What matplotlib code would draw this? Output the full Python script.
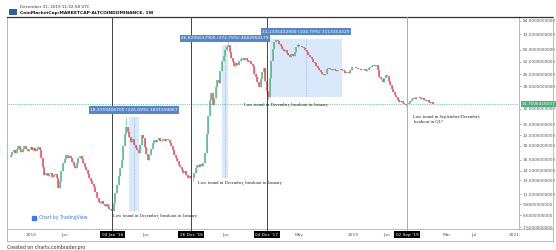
import numpy as np
import pandas as pd
import matplotlib
matplotlib.use("Agg")
import matplotlib.pyplot as plt
import matplotlib.dates as mdates
import matplotlib.transforms as mtransforms
from matplotlib.patches import Rectangle
from matplotlib.lines import Line2D
from matplotlib.ticker import FixedLocator, FixedFormatter, NullLocator

# weekly closes (altcoin dominance), weeks start 2014-09-29
close_2014 = [17.4, 18.1, 18.6, 17.9, 18.8, 19.3, 18.6, 18.0, 18.7, 19.5, 18.8, 18.3, 18.7, 19.2]
close_2015 = [18.6, 18.9, 18.3, 18.7, 19.2, 18.5, 16.9, 15.2, 13.8, 14.1, 13.6, 13.9, 14.2,
              13.5, 13.8, 14.0, 13.4, 11.9, 12.9, 14.4, 15.8, 16.6, 17.5, 16.9, 17.3, 16.8,
              16.0, 15.4, 15.0, 15.9, 16.8, 17.3, 16.7, 15.9, 15.1, 14.6, 13.9, 13.3, 12.8,
              12.4, 12.0, 11.3, 10.6, 10.1, 9.9, 10.2, 9.8, 9.6, 9.8, 9.5, 9.3, 9.2]
close_2016 = [9.1, 9.9, 11.2, 12.3, 13.6, 15.0, 16.5, 19.3, 22.4, 24.2, 22.8, 21.6, 20.3,
              21.1, 19.6, 18.9, 18.5, 17.9, 19.6, 22.1, 21.3, 19.2, 17.6, 16.5, 17.4, 18.8,
              20.1, 20.8, 20.4, 20.9, 21.2, 20.6, 20.8, 21.0, 20.5, 21.1, 20.7, 20.2, 19.3,
              18.4, 17.5, 16.8, 16.2, 15.6, 15.1, 14.6, 14.2, 14.4, 13.8, 13.3, 13.6, 13.4]
close_2017 = [13.3, 14.1, 14.9, 15.5, 15.2, 15.7, 15.3, 15.9, 17.8, 22.4, 27.6, 33.3, 36.1,
              31.4, 34.2, 38.9, 42.1, 40.6, 46.8, 52.4, 55.9, 59.7, 62.1, 63.4, 58.6, 54.2,
              52.0, 49.8, 51.6, 50.1, 52.7, 53.5, 54.3, 53.2, 54.6, 52.9, 51.8, 52.4, 50.9,
              49.8, 45.2, 43.6, 41.3, 38.7, 42.4, 46.1, 48.4, 41.6, 36.8, 34.5, 43.2, 52.6]
close_2018 = [60.3, 65.8, 67.2, 66.1, 64.0, 62.8, 60.4, 58.9, 59.6, 57.8, 56.2, 55.1, 56.8,
              55.4, 58.7, 61.6, 63.4, 62.5, 63.0, 62.1, 61.3, 59.6, 58.1, 56.4, 55.3, 53.6,
              52.2, 51.4, 49.8, 48.6, 47.3, 46.2, 45.1, 44.6, 45.3, 47.9, 48.4, 47.6, 47.1,
              47.8, 47.3, 46.9, 47.5, 47.0, 47.6, 47.2, 46.5, 45.6, 46.3, 45.8, 47.4, 48.9]
close_2019 = [49.2, 49.0, 48.3, 47.6, 48.1, 47.4, 47.0, 47.6, 46.8, 47.5, 48.3, 48.9, 49.6,
              50.1, 49.7, 50.4, 47.2, 43.6, 42.3, 41.1, 43.2, 44.6, 44.0, 41.8, 39.6, 37.9,
              36.6, 35.1, 34.4, 33.3, 32.6, 32.9, 32.0, 31.6, 31.4, 31.9, 32.1, 33.0, 33.6,
              34.1, 33.8, 34.3, 34.5, 34.2, 33.6, 33.9, 33.3, 32.8, 33.1, 32.6, 32.1, 32.4, 31.75]
first_open = 17.0
start_week = "2014-09-29"

# wicks that stick out past the bodies (week index -> value)
wick_high = {75: 27.3, 141: 66.0, 172: 68.3, 186: 64.6}
wick_low = {66: 8.6, 118: 12.9, 167: 33.6, 256: 30.9}

last_price = 31.7506416037
price_ticks = [84, 72, 60, 52, 45, 39, 30, 25, 22, 19.5, 16.5, 14.5, 13, 11, 9.8, 8.6, 7.5]

date_ticks = ["2015-01-01", "2015-06-01", "2016-06-01", "2017-06-01", "2018-05-01",
              "2019-01-01", "2019-06-01", "2020-03-01", "2020-07-01", "2021-01-01"]
date_tick_labels = ["2015", "Jun", "Jun", "Jun", "May", "2019", "Jun", "Mar", "Jul", "2021"]

marker_dates = ["2016-01-04", "2016-12-26", "2017-12-04", "2019-09-02"]
marker_labels = ["04 Jan '16", "26 Dec '16", "04 Dec '17", "02 Sep '19"]
marker_colors = ["#444444", "#444444", "#444444", "#aaaaaa"]

range_start = ["2016-03-21", "2017-05-15", "2017-12-18"]
range_end = ["2016-05-02", "2017-06-12", "2018-11-12"]
range_low = [9.0, 13.3, 34.5]
range_high = [27.3, 63.4, 68.3]
range_labels = ["18.3159406700 (225.09%) 1831594067",
                "46.8295017900 (372.79%) 4682950179",
                "31.1335432900 (104.79%) 3113354329"]

note_dates = ["2016-01-06", "2017-01-28", "2017-08-23", "2019-09-30"]
note_values = [8.55, 12.6, 31.5, 28.0]
note_texts = ["Low found in December, breakout in January",
              "Low found in December, breakout in January",
              "Low found in December, breakout in January",
              "Low found in September/December,\nbreakout in Q1?"]

W, H = 556, 250
UP, DOWN = "#53b987", "#eb4d5c"

fig = plt.figure(figsize=(W / 100, H / 100), dpi=100)
ax = fig.add_axes([7 / W, 1 - 229 / H, 512 / W, 212 / H])
ax.set_yscale("log")

closes = np.array(close_2014 + close_2015 + close_2016 + close_2017 + close_2018 + close_2019)
opens = np.concatenate([[first_open], closes[:-1]])
dates = pd.date_range(start_week, periods=len(closes), freq="7D")
x = mdates.date2num(dates)
highs = np.maximum(opens, closes)
lows = np.minimum(opens, closes)
for k, v in wick_high.items():
    highs[k] = v
for k, v in wick_low.items():
    lows[k] = v
cols = [UP if c >= o else DOWN for o, c in zip(opens, closes)]

# range boxes behind the candles
for s, e, lo, hi, lab in zip(range_start, range_end, range_low, range_high, range_labels):
    s, e = mdates.datestr2num(s), mdates.datestr2num(e)
    ax.add_patch(Rectangle((s, lo), e - s, hi - lo, facecolor="#dae8fb", edgecolor="none", zorder=1))
    mid = (s + e) / 2
    ax.plot([mid, mid], [lo, hi], color="#6f9bd8", lw=0.5, ls=(0, (1, 1.5)), zorder=1.5)
    ax.annotate(lab, (mid, hi), xytext=(0, 3.5), textcoords="offset points",
                ha="center", va="bottom", fontsize=3.2, color="white", zorder=6,
                bbox=dict(boxstyle="square,pad=0.35", fc="#5787c9", ec="none"))

ax.vlines(x, lows, highs, colors=cols, lw=0.4, zorder=3)
ax.vlines(x, np.minimum(opens, closes), np.maximum(opens, closes), colors=cols, lw=1.1, zorder=3)

# current price line
ax.axhline(last_price, color=UP, lw=0.6, ls=(0, (1, 1.2)), zorder=2)
ytr = mtransforms.blended_transform_factory(ax.transAxes, ax.transData)
ax.text(1.006, last_price, f"{last_price:.10f}", transform=ytr, ha="left", va="center",
        fontsize=3.1, color="white", zorder=7, clip_on=False,
        bbox=dict(boxstyle="square,pad=0.3", fc="#4caf7d", ec="none"))

# vertical marker lines and their date boxes
xtr = mtransforms.blended_transform_factory(ax.transData, ax.transAxes)
for d, lab, c in zip(marker_dates, marker_labels, marker_colors):
    dn = mdates.datestr2num(d)
    ax.axvline(dn, ymin=-0.02, ymax=1, color=c, lw=0.7, zorder=4, clip_on=False)
    ax.text(dn, -0.028, lab, transform=xtr, ha="center", va="center", fontsize=3.1,
            color="white", zorder=8, clip_on=False,
            bbox=dict(boxstyle="square,pad=0.35", fc="black", ec="none"))

for d, v, t in zip(note_dates, note_values, note_texts):
    ax.text(mdates.datestr2num(d), v, t, ha="left", va="top" if "\n" in t else "center",
            fontsize=3.3, family="Liberation Serif", color="#222222", zorder=6,
            linespacing=1.3)

ax.set_xlim(mdates.datestr2num("2014-09-13"), mdates.datestr2num("2021-01-21"))
ax.set_ylim(7.33, 88.0)

ax.set_xticks([mdates.datestr2num(d) for d in date_ticks])
ax.set_xticklabels(date_tick_labels)
ax.tick_params(axis="x", length=0, pad=3.2, labelsize=3.2, colors="#555555")

ax.yaxis.tick_right()
ax.yaxis.set_major_locator(FixedLocator(price_ticks))
ax.yaxis.set_major_formatter(FixedFormatter([f"{v:.10f}" for v in price_ticks]))
ax.yaxis.set_minor_locator(NullLocator())
ax.tick_params(axis="y", length=1.5, width=0.4, pad=1.2, labelsize=3.1,
               colors="#777777", labelcolor="#555555")

for side in ["left", "right", "bottom"]:
    ax.spines[side].set_color("#b0b0b0")
    ax.spines[side].set_linewidth(0.6)
ax.spines["top"].set_color("#333333")
ax.spines["top"].set_linewidth(0.9)


def px_line(x0, y0, x1, y1, color, lw):
    fig.add_artist(Line2D([x0 / W, x1 / W], [1 - y0 / H, 1 - y1 / H], color=color, lw=lw,
                          transform=fig.transFigure))


# outer frame of price / time scales
px_line(519, 17, 553, 17, "#333333", 0.9)
px_line(553, 17, 553, 241, "#b0b0b0", 0.6)
px_line(7, 241, 553, 241, "#b0b0b0", 0.6)
px_line(7, 229, 7, 241, "#b0b0b0", 0.6)
px_line(519, 229, 553, 229, "#b0b0b0", 0.6)

# watermark
ax.text(0.063, 0.052, "Chart by TradingView", transform=ax.transAxes, fontsize=3.3,
        color="#3b7ddd", ha="left", va="center")
ax.plot([0.052], [0.052], marker="s", ms=2.2, color="#3b7ddd", transform=ax.transAxes,
        clip_on=False)

# header
fig.add_artist(Rectangle((9 / W, 1 - 15 / H), 8 / W, 6 / H, transform=fig.transFigure,
                         fc="#2f5f9e", ec="none"))
fig.text(20 / W, 1 - 6.5 / H, "December 31, 2019 11:32:58 UTC", fontsize=3.0,
         color="#333333", va="center")
fig.text(20 / W, 1 - 13 / H, "CoinMarketCap:MARKETCAP-ALTCOINDOMINANCE, 1W", fontsize=3.2,
         color="#111111", weight="bold", va="center")
fig.text(7 / W, 1 - 247 / H, "Created on charts.coinbrader.pro", fontsize=3.4,
         color="#333333", va="center")

fig.savefig("out.png", dpi=100)
